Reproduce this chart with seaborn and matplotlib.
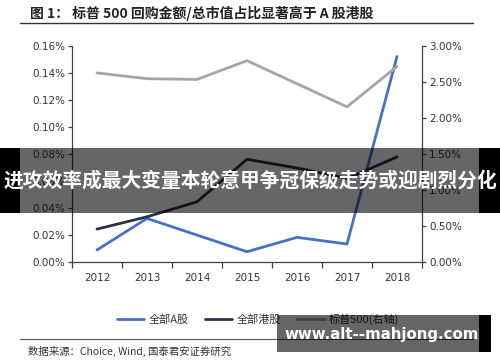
import matplotlib
matplotlib.use("Agg")
import matplotlib.pyplot as plt
import matplotlib.patches as mpatches
from matplotlib.ticker import FuncFormatter, FixedLocator
import seaborn as sns
import pandas as pd

years = [2012, 2013, 2014, 2015, 2016, 2017, 2018]
a_share = [0.0089, 0.0322, 0.0199, 0.0076, 0.0182, 0.0133, 0.1519]   # % left axis
hk_share = [0.0243, 0.0334, 0.0445, 0.0759, 0.0695, 0.0617, 0.0776]  # % left axis
sp500 = [2.62, 2.54, 2.53, 2.79, 2.47, 2.15, 2.71]                   # % right axis

title = "图 1： 标普 500 回购金额/总市值占比显著高于 A 股港股"
source = "数据来源：Choice, Wind, 国泰君安证券研究"
banner = "进攻效率成最大变量本轮意甲争冠保级走势或迎剧烈分化"
watermark = "www.alt--mahjong.com"
labels = ["全部A股", "全部港股", "标普500(右轴)"]

sns.set_theme(style="white")
plt.rcParams['font.family'] = ['Noto Sans CJK SC', 'DejaVu Sans']

W, H = 500, 362
fig = plt.figure(figsize=(5, 3.62), dpi=100)
ax = fig.add_axes([72 / W, 1 - 262 / H, 350 / W, (262 - 45.5) / H])
ax2 = ax.twinx()

df = pd.DataFrame({"year": years, "a": a_share, "hk": hk_share, "sp": sp500})
c_blue, c_dark, c_gray = "#4472C4", "#263445", "#A5A5A5"
sns.lineplot(data=df, x="year", y="a", ax=ax, color=c_blue, lw=2.0, label=labels[0], legend=False)
sns.lineplot(data=df, x="year", y="hk", ax=ax, color=c_dark, lw=2.0, label=labels[1], legend=False)
sns.lineplot(data=df, x="year", y="sp", ax=ax2, color=c_gray, lw=2.0, label=labels[2], legend=False)

ax.set_xlim(2011.5, 2018.5)
ax.set_ylim(0, 0.16)
ax2.set_ylim(0, 3.0)
ax.set_yticks([0, 0.02, 0.04, 0.06, 0.08, 0.10, 0.12, 0.14, 0.16])
ax2.set_yticks([0, 0.5, 1.0, 1.5, 2.0, 2.5, 3.0])
ax.yaxis.set_major_formatter(FuncFormatter(lambda v, p: f"{v:.2f}%"))
ax2.yaxis.set_major_formatter(FuncFormatter(lambda v, p: f"{v:.2f}%"))
ax.set_xticks(years)
ax.set_xticklabels([str(y) for y in years])
ax.xaxis.set_minor_locator(FixedLocator([2011.5 + i for i in range(8)]))
ax.set_xlabel("")
ax.set_ylabel("")
ax2.set_ylabel("")

tc = "#333333"
for a in (ax, ax2):
    for s in a.spines.values():
        s.set_visible(False)
    a.grid(False)
ax.spines['left'].set_visible(True)
ax.spines['bottom'].set_visible(True)
ax2.spines['right'].set_visible(True)
for s in (ax.spines['left'], ax.spines['bottom'], ax2.spines['right']):
    s.set_color("#404040")
    s.set_linewidth(0.9)

ax.tick_params(axis='y', which='major', direction='out', length=3, width=0.9, color="#404040",
               labelsize=7.5, labelcolor=tc, pad=2, left=True)
ax2.tick_params(axis='y', which='major', direction='out', length=3, width=0.9, color="#404040",
                labelsize=7.5, labelcolor=tc, pad=2, right=True)
ax.tick_params(axis='x', which='major', length=0, labelsize=7.5, labelcolor=tc, pad=8)
ax.tick_params(axis='x', which='minor', direction='out', length=4, width=0.9, color="#404040", bottom=True)
for lab in ax.get_xticklabels() + ax.get_yticklabels() + ax2.get_yticklabels():
    lab.set_family(['DejaVu Sans'])

# title and rules
fig.text(30 / W, 1 - 13 / H, title, fontsize=10, fontweight='bold', color="#222222",
         ha='left', va='center')
fig.add_artist(plt.Line2D([20 / W, 473 / W], [1 - 23 / H, 1 - 23 / H], color="#333333", lw=1.0))
fig.add_artist(plt.Line2D([20 / W, 473 / W], [1 - 339 / H, 1 - 339 / H], color="#555555", lw=0.8))
fig.text(28 / W, 1 - 351 / H, source, fontsize=7.5, color="#333333", ha='left', va='center')

# legend
h1, l1 = ax.get_legend_handles_labels()
h2, l2 = ax2.get_legend_handles_labels()
fig.legend(h1 + h2, l1 + l2, loc='center', bbox_to_anchor=(258 / W, 1 - 319 / H), ncol=3,
           frameon=False, fontsize=8, handlelength=2.5, columnspacing=1.4, handletextpad=0.4,
           labelcolor="#333333")

# banner overlay
def band(x0, x1, y0, y1, color, alpha):
    fig.add_artist(mpatches.Rectangle((x0 / W, 1 - y1 / H), (x1 - x0) / W, (y1 - y0) / H,
                                      transform=fig.transFigure, facecolor=color, alpha=alpha,
                                      edgecolor='none', zorder=10))

band(0, 20, 148, 213, "black", 1.0)
band(479, 500, 148, 213, "black", 1.0)
band(20, 479, 148, 213, "black", 0.6)
fig.text(250 / W, 1 - 181 / H, banner, fontsize=14.2, fontweight='bold', color='white',
         ha='center', va='center', zorder=11)

band(277, 479, 315, 352, "black", 0.6)
band(479, 491, 315, 352, "black", 1.0)
fig.text(382 / W, 1 - 334 / H, watermark, fontsize=10.8, fontweight='bold', color='white',
         ha='center', va='center', zorder=11, family=['DejaVu Sans'])

fig.savefig("out.png", dpi=100)
